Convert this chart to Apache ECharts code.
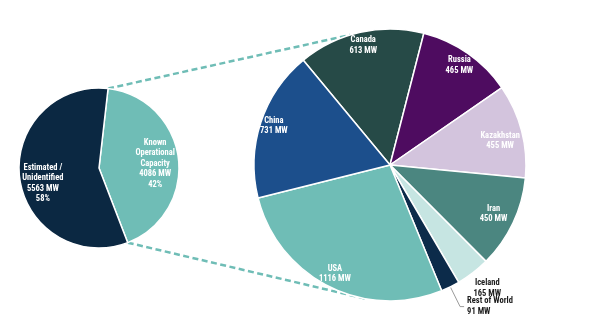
<!DOCTYPE html>
<html>
<head>
<meta charset="utf-8">
<script src="https://cdn.jsdelivr.net/npm/echarts@6/dist/echarts.min.js"></script>
<style>
  html, body { margin: 0; padding: 0; background: #ffffff; }
  #chart { width: 602px; height: 329px; }
</style>
</head>
<body>
<div id="chart"></div>
<script>
// Overall split of mining capacity (MW)
const splitNames = ['Known\nOperational\nCapacity', 'Estimated /\nUnidentified'];
const splitValues = [4086, 5563];

// Known operational capacity by country (MW), clockwise from the top
const countryNames = ['Canada', 'Russia', 'Kazakhstan', 'Iran', 'Iceland', 'Rest of World', 'USA', 'China'];
const countryValues = [613, 465, 455, 450, 165, 91, 1116, 731];

const unit = 'MW';

// ---- styling ----
const FONT = "'Roboto Condensed','Open Sans Condensed','Liberation Sans',Arial,sans-serif";
const splitColors = ['#6fbdb6', '#0b2842'];
const countryColors = ['#264a47', '#4e0c60', '#d3c4dd', '#4b8680', '#c6e5e2', '#0c2b4a', '#6fbdb6', '#1c4f8c'];
const darkText = '#1b1b1b';

// label distance from the centre as a fraction of the radius, plus a small nudge [dx, dy];
// a null distance hangs the label off a leader line instead
const splitLabelRadius = [0.67, 0.67];
const splitLabelNudge = [[0, 3], [0, 8]];
const countryLabelRadius = [0.88, 0.87, 0.83, 0.82, 1.15, null, 0.875, 0.90];
const countryLabelNudge = [[0, 0], [0, 0], [-2, 5], [0, 0], [0, -3], [0, 0], [0, 0], [3, 0]];
const countryLabelDark = [false, false, false, false, true, true, false, false];

// pie geometry; start angles are measured clockwise from 12 o'clock
const L = { cx: 99, cy: 168, r: 80, start: 6.5 };
const R = { cx: 390, cy: 165, r: 136, start: -39.6 };
const connectorEnd = { top: -17, bottom: 189.7 };

const sum = arr => arr.reduce((a, b) => a + b, 0);
const splitTotal = sum(splitValues);
const ecAngle = a => 90 - a;
const rad = a => a * Math.PI / 180;
const pointOn = (c, r, a) => [c.cx + r * Math.sin(rad(a)), c.cy - r * Math.cos(rad(a))];

// mid angle of every slice (clockwise from 12 o'clock)
const midAngles = (values, start) => {
  const total = sum(values);
  let acc = 0;
  return values.map(v => { const m = start + 360 * (acc + v / 2) / total; acc += v; return m; });
};
// ECharts puts inside labels at half the radius; shift them out to the wanted distance
const labelOffset = (c, mid, frac, nudge) => [
  (frac - 0.5) * c.r * Math.sin(rad(mid)) + nudge[0],
  -(frac - 0.5) * c.r * Math.cos(rad(mid)) + nudge[1]
];

const baseText = { fontFamily: FONT, fontSize: 8.5, fontWeight: 'bold', lineHeight: 10.5 };
const clear = 'rgba(0,0,0,0)';

const splitMid = midAngles(splitValues, L.start);
const splitData = splitNames.map((n, i) => ({
  name: n, value: splitValues[i], itemStyle: { color: splitColors[i] },
  label: { offset: labelOffset(L, splitMid[i], splitLabelRadius[i], splitLabelNudge[i]) }
}));

const countryMid = midAngles(countryValues, R.start);
const onLeader = countryLabelRadius.map(f => f === null);
const countryData = countryNames.map((n, i) => ({
  name: n, value: countryValues[i], itemStyle: { color: countryColors[i] },
  label: onLeader[i] ? { show: false } : {
    show: true,
    color: countryLabelDark[i] ? darkText : '#ffffff',
    offset: labelOffset(R, countryMid[i], countryLabelRadius[i], countryLabelNudge[i])
  }
}));
// leader-line labels live on a transparent copy of the same pie
const leaderData = countryNames.map((n, i) => ({
  name: n, value: countryValues[i],
  label: { show: onLeader[i] },
  labelLine: { show: onLeader[i] }
}));

const common = {
  type: 'pie', silent: true, animation: false, avoidLabelOverlap: false,
  emphasis: { disabled: true }, clockwise: true,
  labelLayout: { hideOverlap: false }
};

const knownSweep = 360 * splitValues[0] / splitTotal;
const topA = pointOn(L, L.r, L.start), topB = pointOn(R, R.r, connectorEnd.top);
const botA = pointOn(L, L.r, L.start + knownSweep), botB = pointOn(R, R.r, connectorEnd.bottom);
const connector = (a, b) => ({
  type: 'line', z: 1, silent: true,
  shape: { x1: a[0], y1: a[1], x2: b[0], y2: b[1] },
  style: { stroke: '#6fbdb6', lineWidth: 2.5, lineDash: [6, 3.5] }
});

const option = {
  backgroundColor: '#ffffff',
  animation: false,
  graphic: [connector(topA, topB), connector(botA, botB)],
  series: [
    // left: total split
    Object.assign({}, common, {
      center: [L.cx, L.cy], radius: [0, L.r], startAngle: ecAngle(L.start),
      itemStyle: { borderColor: '#ffffff', borderWidth: 1.5 },
      label: Object.assign({
        show: true, position: 'inside', color: '#ffffff', overflow: 'none',
        formatter: p => `${p.name}\n${p.value} ${unit}\n${Math.round(100 * p.value / splitTotal)}%`
      }, baseText),
      labelLine: { show: false },
      data: splitData
    }),
    // right: country breakdown of the known capacity
    Object.assign({}, common, {
      center: [R.cx, R.cy], radius: [0, R.r], startAngle: ecAngle(R.start),
      itemStyle: { borderColor: '#ffffff', borderWidth: 1.5 },
      label: Object.assign({
        position: 'inside', overflow: 'none',
        formatter: p => `${p.name}\n${p.value} ${unit}`
      }, baseText),
      labelLine: { show: false },
      data: countryData
    }),
    Object.assign({}, common, {
      center: [R.cx, R.cy], radius: [0, R.r], startAngle: ecAngle(R.start),
      itemStyle: { color: clear, borderWidth: 0 },
      label: Object.assign({
        position: 'outside', color: darkText, overflow: 'none', distanceToLabelLine: 3,
        formatter: p => `${p.name}\n${p.value} ${unit}`
      }, baseText),
      labelLine: { length: 22, length2: 4, lineStyle: { color: '#808080', width: 0.8 } },
      data: leaderData
    })
  ]
};

echarts.init(document.getElementById('chart'), null, { renderer: 'canvas' }).setOption(option);
</script>
</body>
</html>
